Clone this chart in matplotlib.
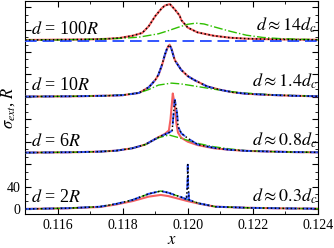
import matplotlib
matplotlib.use("Agg")
import matplotlib.pyplot as plt
from matplotlib.ticker import MultipleLocator, FuncFormatter

plt.rcParams['font.family'] = ['Liberation Serif', 'DejaVu Serif']
plt.rcParams['mathtext.fontset'] = 'stix'

# -----------------------
# DATA (values relative to each panel's baseline)
# -----------------------

offsets = [300, 100 * 2, 100, 0]
left_labels = ["$d$ = 100$R$", "$d$ = 10$R$", "$d$ = 6$R$", "$d$ = 2$R$"]
right_labels = [r"$d \approx 14d_c$", r"$d \approx 1.4d_c$",
                r"$d \approx 0.8d_c$", r"$d \approx 0.3d_c$"]

# d = 100R
x_100 = [0.1150, 0.1160, 0.1170, 0.1175, 0.1179, 0.1183, 0.1186, 0.1188, 0.1190, 0.1192,
         0.1193, 0.11945, 0.1196, 0.11975, 0.1198, 0.1200, 0.1203, 0.1208, 0.1213, 0.1218,
         0.1225, 0.1232, 0.1240]
red_100 = [1.5, 2.0, 2.5, 3.5, 5.0, 9.0, 14, 26, 44, 58,
           63, 65.5, 56, 45, 37, 23.5, 15, 9.0, 5.5, 3.8,
           2.8, 2.2, 1.8]
xb_100 = [0.1150, 0.1240]
blue_100 = [0.0, 0.0]
xg_100 = [0.1150, 0.1160, 0.1173, 0.1180, 0.1185, 0.1188, 0.1191, 0.1194, 0.1197, 0.1200,
          0.12025, 0.1205, 0.1208, 0.1213, 0.1218, 0.1223, 0.1228, 0.1233, 0.1240]
green_100 = [1.0, 1.5, 3.0, 4.5, 6.5, 9.5, 12.5, 18, 24, 29.5,
             31.5, 30, 25, 17, 10, 6, 4, 3, 2]

# d = 10R
x_10 = [0.1150, 0.1165, 0.1175, 0.1180, 0.1185, 0.1188, 0.1190, 0.1191, 0.1192, 0.1193,
        0.11938, 0.11944, 0.1195, 0.1196, 0.1198, 0.1200, 0.1202, 0.1206, 0.1210, 0.1214,
        0.1218, 0.1225, 0.1232, 0.1240]
red_10 = [0.5, 1.0, 2.0, 3.0, 7.0, 17, 30, 39, 55, 75,
          88, 93, 86, 66, 48, 37, 30, 18.5, 12.5, 8.0,
          5.5, 3.5, 2.0, 1.0]
blue_10 = [0.5, 1.0, 2.0, 3.0, 7.0, 17, 30, 40, 56, 76,
           89, 93, 85, 65, 48, 37, 30, 18.5, 12.5, 8.0,
           5.5, 3.5, 2.0, 1.0]
xg_10 = [0.1150, 0.1165, 0.1173, 0.1180, 0.1185, 0.1188, 0.1191, 0.1195, 0.1198, 0.1203,
         0.1208, 0.1213, 0.1218, 0.1225, 0.1232, 0.1240]
green_10 = [0.5, 1.0, 1.8, 3.5, 7, 13, 21, 24.5, 23, 18.4,
            13.7, 9.5, 6.6, 4, 2.5, 1.0]

# d = 6R
x_6r = [0.1150, 0.1165, 0.1173, 0.1178, 0.1183, 0.1187, 0.1191, 0.1193, 0.11942, 0.11947,
        0.11950, 0.11954, 0.11958, 0.11962, 0.11965, 0.1197, 0.1198, 0.1200, 0.1203, 0.1208,
        0.1213, 0.1218, 0.1225, 0.1232, 0.1240]
red_6 = [0.5, 1.2, 2.3, 4.0, 8.3, 15, 28, 34, 40, 60,
         80, 106, 92, 75, 53, 36, 27, 20, 14, 8.3,
         5.5, 3.6, 2.5, 1.5, 1.0]
x_6b = [0.1150, 0.1165, 0.1173, 0.1178, 0.1183, 0.1187, 0.1191, 0.1193, 0.11945, 0.11952,
        0.11955, 0.11960, 0.11965, 0.11968, 0.1197, 0.1198, 0.1200, 0.1203, 0.1208, 0.1213,
        0.1218, 0.1225, 0.1232, 0.1240]
blue_6 = [0.5, 1.2, 2.3, 4.0, 8.3, 15, 28, 33, 37, 40,
          60, 95, 80, 65, 47, 35, 26, 15, 9, 5.5,
          3.6, 2.5, 1.5, 1.0]
xg_6 = [0.1150, 0.1165, 0.1173, 0.1178, 0.1183, 0.1187, 0.1191, 0.11942, 0.1198, 0.1203,
        0.1208, 0.1213, 0.1218, 0.1225, 0.1232, 0.1240]
green_6 = [0.5, 1.2, 2.3, 4.0, 8.3, 15, 27, 32, 26, 17,
           11, 7, 4, 2.5, 1.5, 1.0]

# d = 2R
x_2b = [0.1150, 0.1163, 0.1173, 0.1178, 0.1183, 0.1188, 0.11917, 0.1194, 0.1198, 0.11996,
        0.11999, 0.12000, 0.12001, 0.12004, 0.12034, 0.12085, 0.1219, 0.1230, 0.1240]
blue_2 = [0, 1.3, 4, 9, 16, 27, 32, 29, 21, 17,
          45, 79, 45, 16, 10, 4, 2, 1, 0.5]
x_2 = [0.1150, 0.1163, 0.1173, 0.1178, 0.1183, 0.1188, 0.11917, 0.1194, 0.1198, 0.1200,
       0.12034, 0.12085, 0.1219, 0.1230, 0.1240]
green_2 = [0, 1.3, 4, 9, 16, 27, 32, 29, 21, 16.5,
           10, 4, 2, 1, 0.5]
red_2 = [0, 1.2, 3.5, 8, 14, 22, 25, 23, 17, 14,
         9.5, 4, 2, 1, 0.5]

# (x_red, red, x_blue, blue, x_green, green, x_black, black)
panels = [
    (x_100, red_100, xb_100, blue_100, xg_100, green_100, x_100, red_100),
    (x_10, red_10, x_10, blue_10, xg_10, green_10, x_10, blue_10),
    (x_6r, red_6, x_6b, blue_6, xg_6, green_6, x_6b, blue_6),
    (x_2, red_2, x_2b, blue_2, x_2, green_2, x_2b, blue_2),
]

# -----------------------
# PLOT
# -----------------------

fig = plt.figure(figsize=(3.34, 2.48), dpi=100)
ax = fig.add_axes([25 / 334, 1 - 214 / 248, 293 / 334, 213 / 248])

for (xr, yr, xb, yb, xg, yg, xk, yk), off in zip(panels, offsets):
    ax.plot(xr, [v + off for v in yr], color='#f21d1d', lw=1.5, alpha=0.7, zorder=2)
    ax.plot(xg, [v + off for v in yg], color='#2fbf00', lw=1.0, ls='-.', zorder=3)
    ax.plot(xb, [v + off for v in yb], color='#3355ff', lw=1.4, ls=(0, (6, 3)), zorder=4)
    ax.plot(xk, [v + off for v in yk], color='black', lw=1.1, ls=(0, (1, 1.6)), zorder=5)

for i, off in enumerate(offsets):
    ax.text(0.11518, off + 21, left_labels[i], fontsize=13, va='center', ha='left')
    ax.text(0.12397, off + (28 if i < 2 else 23), right_labels[i], fontsize=13,
            va='center', ha='right')

ax.set_xlim(0.115, 0.124)
ax.set_ylim(-9, 371)

ax.xaxis.set_major_locator(MultipleLocator(0.002))
ax.xaxis.set_minor_locator(MultipleLocator(0.001))
ax.xaxis.set_major_formatter(FuncFormatter(lambda v, p: "%.3f" % v))
ax.yaxis.set_major_locator(MultipleLocator(40))
ax.yaxis.set_minor_locator(MultipleLocator(40 / 3))
ax.yaxis.set_major_formatter(FuncFormatter(lambda v, p: "%d" % v if v in (0, 40) else ""))

ax.tick_params(which='both', direction='in', top=True, right=True, labelsize=10)
ax.tick_params(which='major', length=4)
ax.tick_params(which='minor', length=2)

ax.set_xlabel("$x$", fontsize=12, labelpad=0)
ax.set_ylabel(r"$\sigma_{ext}$, $R$", fontsize=12)
ax.yaxis.set_label_coords(-0.028, 0.5)

fig.savefig("out.png", dpi=100)
